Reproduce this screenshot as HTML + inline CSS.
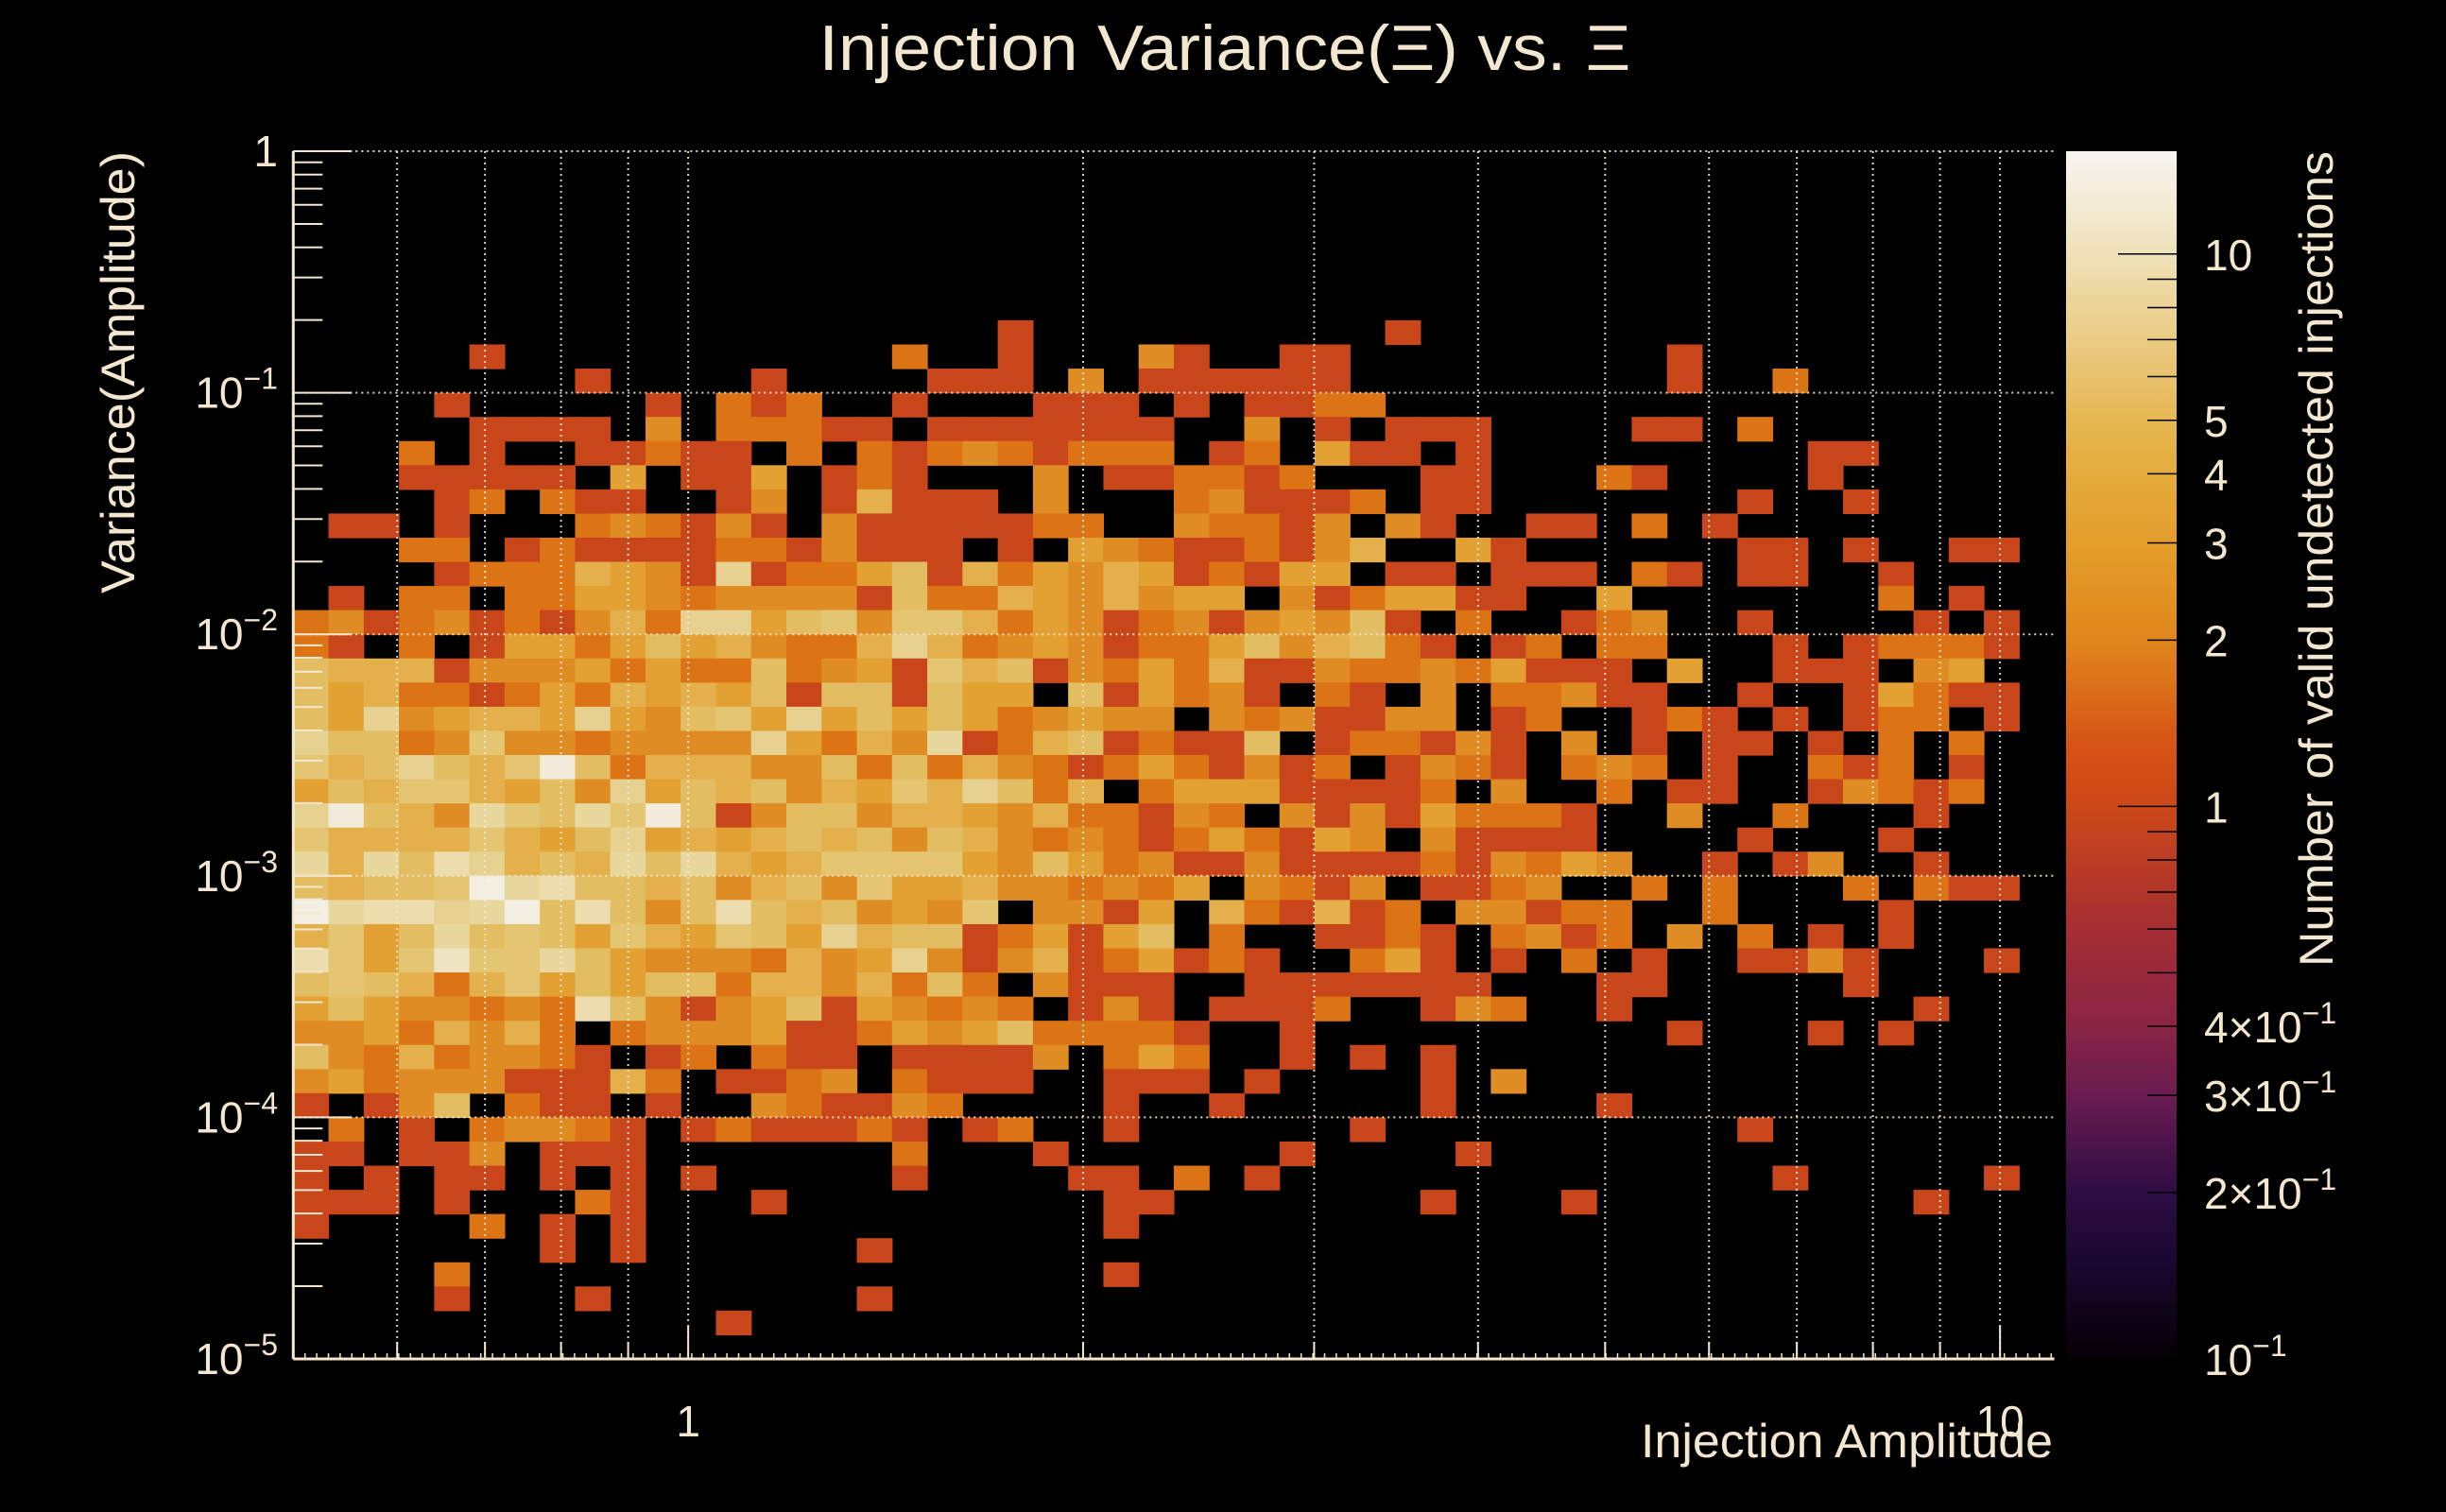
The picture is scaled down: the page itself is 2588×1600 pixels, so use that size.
<!DOCTYPE html>
<html><head><meta charset="utf-8">
<style>
html,body{margin:0;padding:0;background:#000;}
svg{display:block;}
text{font-family:"Liberation Sans",sans-serif;fill:#f3e8cf;}
</style></head>
<body>
<svg id="chart" width="2588" height="1600" viewBox="0 0 2588 1600" xmlns="http://www.w3.org/2000/svg">
<rect x="0" y="0" width="2588" height="1600" fill="#000"/>
<defs>
<linearGradient id="cbgrad" x1="0" y1="1" x2="0" y2="0"></linearGradient>
</defs>
<g id="cells"></g>
<g id="grid"></g>
<g id="axes"></g>
<g id="cbar"></g>
<text x="1296" y="74" font-size="68" text-anchor="middle" textLength="859" lengthAdjust="spacingAndGlyphs">Injection Variance(Ξ) vs. Ξ</text>
<text transform="translate(142,160) rotate(-90)" font-size="50" text-anchor="end" textLength="468" lengthAdjust="spacingAndGlyphs">Variance(Amplitude)</text>
<text x="2172" y="1542" font-size="50" text-anchor="end" textLength="436" lengthAdjust="spacingAndGlyphs">Injection Amplitude</text>
<text transform="translate(2468,160) rotate(-90)" font-size="50" text-anchor="end" textLength="863" lengthAdjust="spacingAndGlyphs">Number of valid undetected injections</text>
</svg>
<script>
// ---- data ----
const xRange = [0.5, 11];        // injection amplitude range (log axis)
const yRange = [1e-5, 1];        // variance range (log axis)
const zRange = [0.1, 15.35];     // colour scale range (log)
// counts per bin, row 0 = top (variance 10^-0.1..1), char = count in base 36
const counts = [
"00000000000000000000000000000000000000000000000000",
"00000000000000000000000000000000000000000000000000",
"00000000000000000000000000000000000000000000000000",
"00000000000000000000000000000000000000000000000000",
"00000000000000000000000000000000000000000000000000",
"00000000000000000000000000000000000000000000000000",
"00000000000000000000000000000000000000000000000000",
"00000000000000000"+"0001000000000010"+"00000000000000000",
"00000100000000000"+"2001000310011000"+"00000010000000000",
"00000000100001000"+"0111030111111000"+"00000010020000000",
"00001000001021200"+"1000111010112200"+"00000000000000000",
"00000111103022211"+"0111111100301011"+"10000110200000000",
"00020100112110202"+"1232122201204110"+"10000000001100000",
"00011111040114012"+"1000301122120001"+"10002100001000000",
"00001202110013015"+"1110300023111201"+"10000000100100000",
"01101000232131031"+"1111220032213031"+"00110201000000000",
"00022012111122131"+"1101043211213500"+"41000000110100110",
"00001222543181224"+"6152435412144011"+"01110210110010000",
"01022022443233331"+"6225435344031244"+"11004000000020100",
"23123121352884673"+"7752431231343610"+"20012300100001010",
"21020144246453225"+"8523431224635621"+"01202200010122210",
"65551333424226234"+"1756132425113223"+"24111040011103400",
"64522124254546166"+"1644061423102103"+"02231100100142110",
"64834554843674846"+"4642343303231133"+"01200121010122010",
"86623733233338425"+"3912561211601221"+"31030101101020200",
"7568657c625553362"+"6253212421312013"+"21023201002120100",
"46577546384656354"+"7586250244411112"+"03002011001321200",
"8c65397697c613663"+"5543522132031314"+"22210030020001000",
"75555754684545656"+"3653232124214303"+"11110000100010000",
"9596a856596954577"+"7743642311311112"+"13243001013001000",
"65667d9a665635637"+"4453323240321301"+"12300202000202110",
"d9aa89d6a636a6563"+"4370331405215120"+"33122002000010000",
"57469676475476485"+"6612414602001121"+"02312030201010000",
"a747b779643332534"+"8313512412100241"+"01020100113100010",
"67652574646625535"+"2620311100111111"+"10001100000100000",
"46433232a63134614"+"3232013101112001"+"32001000000001000",
"33425352023334112"+"4346222210010000"+"00000010001010000",
"63252332101202110"+"1111302420010101"+"00000000000000000",
"34233311152011230"+"2111001110100001"+"03000000000000000",
"10136021101003211"+"3200001001000001"+"00001000000000000",
"02010233210121112"+"1012001000000100"+"00000000100000000",
"11011301110000000"+"2000100000010000"+"10000000000000000",
"10101101010100000"+"1000011020100000"+"00000000010000010",
"11101000210001000"+"0000001100000001"+"00010000000001000",
"10000201010000000"+"0000001000000000"+"00000000000000000",
"00000001010000001"+"0000000000000000"+"00000000000000000",
"00002000000000000"+"0000001000000000"+"00000000000000000",
"00001000100000001"+"0000000000000000"+"00000000000000000",
"00000000000010000"+"0000000000000000"+"00000000000000000",
"00000000000000000000000000000000000000000000000000"
];
const xMajorTicks = [1, 10];
const xMajorLabels = ["1", "10"];
const xGridVals = [0.6,0.7,0.8,0.9,1,2,3,4,5,6,7,8,9,10];
const yMajorTicks = [1, 1e-1, 1e-2, 1e-3, 1e-4, 1e-5];
const yLabelExp = ["", "−1", "−2", "−3", "−4", "−5"];
const cbTickVals = [10, 5, 4, 3, 2, 1, 0.4, 0.3, 0.2, 0.1];
const cbTickMant = ["10", "5", "4", "3", "2", "1", "4×10", "3×10", "2×10", "10"];
const cbTickExp  = ["", "", "", "", "", "", "−1", "−1", "−1", "−1"];

// ---- geometry ----
const PX0 = 310.3, PX1 = 2173.6, PY0 = 160, PY1 = 1438;
const CB0 = 2186, CB1 = 2303;
const NS = "http://www.w3.org/2000/svg";
const L = Math.log10;
function xScale(v){ return PX0 + (L(v)-L(xRange[0]))/(L(xRange[1])-L(xRange[0]))*(PX1-PX0); }
function yScale(v){ return PY1 - (L(v)-L(yRange[0]))/(L(yRange[1])-L(yRange[0]))*(PY1-PY0); }
function zScale(v){ return PY1 - (L(v)-L(zRange[0]))/(L(zRange[1])-L(zRange[0]))*(PY1-PY0); }
const palette = ["#000","#c8461a","#dc7415","#e08c25","#e4a133","#e4b04b","#e3bd62","#e4c672","#e6d190","#e8d89e","#ecdcae","#efe4c2","#f2ecdc","#f3efe3","#f5f2ea"];
function mk(tag, attrs, parent){ const e=document.createElementNS(NS,tag); for(const k in attrs) e.setAttribute(k,attrs[k]); parent.appendChild(e); return e; }

// ---- cells ----
const cellsG = document.getElementById('cells');
const nRows = counts.length;
counts.forEach((row, r) => {
  const nCols = row.length;
  for (let c = 0; c < nCols; c++) {
    const v = parseInt(row[c], 36);
    if (!v) continue;
    const lx0 = L(xRange[0]) + (L(xRange[1])-L(xRange[0]))*c/nCols;
    const lx1 = L(xRange[0]) + (L(xRange[1])-L(xRange[0]))*(c+1)/nCols;
    const ly1 = L(yRange[1]) - (L(yRange[1])-L(yRange[0]))*r/nRows;
    const ly0 = L(yRange[1]) - (L(yRange[1])-L(yRange[0]))*(r+1)/nRows;
    const x0 = xScale(Math.pow(10,lx0)), x1 = xScale(Math.pow(10,lx1));
    const y0 = yScale(Math.pow(10,ly1)), y1 = yScale(Math.pow(10,ly0));
    const rect = mk('rect', {x:x0.toFixed(2), y:y0.toFixed(2), width:(x1-x0+0.6).toFixed(2), height:(y1-y0+0.6).toFixed(2), fill:palette[Math.min(v,palette.length-1)]}, cellsG);
    
    
  }
});

// ---- grid ----
const gridG = document.getElementById('grid');
const gc = "#f3e8cf";
xGridVals.forEach(v => {
  const x = xScale(v);
  const ln = mk('line', {x1:x, x2:x, y1:PY0, y2:PY1, stroke:gc, 'stroke-width':2, 'stroke-dasharray':'2 4', opacity:0.9}, gridG);
  
  
});
yMajorTicks.slice(0,5).forEach(v => {
  const y = yScale(v);
  const ln = mk('line', {x1:PX0, x2:PX1, y1:y, y2:y, stroke:gc, 'stroke-width':2, 'stroke-dasharray':'2 4', opacity:0.9}, gridG);
  
  
});

// ---- axes ----
const axG = document.getElementById('axes');
const xAxis = mk('line', {x1:PX0, x2:PX1, y1:PY1, y2:PY1, stroke:gc, 'stroke-width':3}, axG);


const yAxis = mk('line', {x1:PX0, x2:PX0, y1:PY0, y2:PY1, stroke:gc, 'stroke-width':3}, axG);


for (let d = 0; d < 5; d++) {
  for (let m = 1; m <= 9; m++) {
    const v = Math.pow(10, -d-1) * m;
    const y = yScale(v);
    const len = m === 1 ? 62 : 31;
    const t = mk('line', {x1:PX0, x2:PX0+len, y1:y, y2:y, stroke:gc, 'stroke-width':2}, axG);
    
    
  }
}
const tTop = mk('line', {x1:PX0, x2:PX0+62, y1:PY0, y2:PY0, stroke:gc, 'stroke-width':2}, axG);


yMajorTicks.forEach((v, i) => {
  const y = yScale(v);
  const t = mk('text', {x:294, y:y+16, 'font-size':46, 'text-anchor':'end'}, axG);
  
  
  if (yLabelExp[i] === "") { t.textContent = "1"; }
  else {
    const a = document.createElementNS(NS,'tspan'); a.textContent = "10"; t.appendChild(a);
    const b = document.createElementNS(NS,'tspan'); b.setAttribute('dy','-20'); b.setAttribute('font-size','32'); b.textContent = yLabelExp[i]; t.appendChild(b);
  }
});
for (let x = PX0; x <= PX1; x += 12.4) {
  const t = mk('line', {x1:x, x2:x, y1:PY1, y2:PY1-6, stroke:gc, 'stroke-width':1.5}, axG);
  
  
}
xGridVals.forEach(v => {
  const x = xScale(v);
  const len = (v === 1 || v === 10) ? 35 : 18;
  const t = mk('line', {x1:x, x2:x, y1:PY1, y2:PY1-len, stroke:gc, 'stroke-width':2}, axG);
  
  
});
xMajorTicks.forEach((v, i) => {
  const t = mk('text', {x:xScale(v), y:1520, 'font-size':46, 'text-anchor':'middle'}, axG);
  
  
  t.textContent = xMajorLabels[i];
});

// ---- colorbar ----
const grad = document.getElementById('cbgrad');
const cbStops = [[0.1,"#050006"],[0.15,"#1a0830"],[0.2,"#2e0c44"],[0.3,"#6a1c50"],[0.4,"#8a2446"],[0.6,"#a52e32"],[1,"#cc4818"],[1.3,"#d65416"],[2,"#e0861c"],[3,"#e39e2c"],[4,"#e4ac3c"],[5,"#e5b752"],[10,"#efe1b8"],[15.35,"#f7f5f2"]];
cbStops.forEach(s => {
  const off = (L(s[0])-L(zRange[0]))/(L(zRange[1])-L(zRange[0]));
  const st = mk('stop', {offset:off.toFixed(4), 'stop-color':s[1]}, grad);
  
  
});
const cbG = document.getElementById('cbar');
const cbRect = mk('rect', {x:CB0, y:PY0, width:CB1-CB0, height:PY1-PY0, fill:'url(#cbgrad)'}, cbG);


for (let d = -1; d <= 1; d++) {
  for (let m = 1; m <= 9; m++) {
    const v = Math.pow(10, d) * m;
    if (v < zRange[0] || v > zRange[1]) continue;
    const y = zScale(v);
    const len = m === 1 ? 62 : 31;
    const t = mk('line', {x1:CB1-len, x2:CB1, y1:y, y2:y, stroke:'#000', 'stroke-width':1.5}, cbG);
    
    
  }
}
cbTickVals.forEach((v, i) => {
  const y = zScale(v);
  const t = mk('text', {x:2332, y:y+17, 'font-size':46, 'text-anchor':'start'}, cbG);
  
  
  const a = document.createElementNS(NS,'tspan'); a.textContent = cbTickMant[i]; t.appendChild(a);
  if (cbTickExp[i]) {
    const b = document.createElementNS(NS,'tspan'); b.setAttribute('dy','-20'); b.setAttribute('font-size','32'); b.textContent = cbTickExp[i]; t.appendChild(b);
  }
});
</script>
</body></html>
